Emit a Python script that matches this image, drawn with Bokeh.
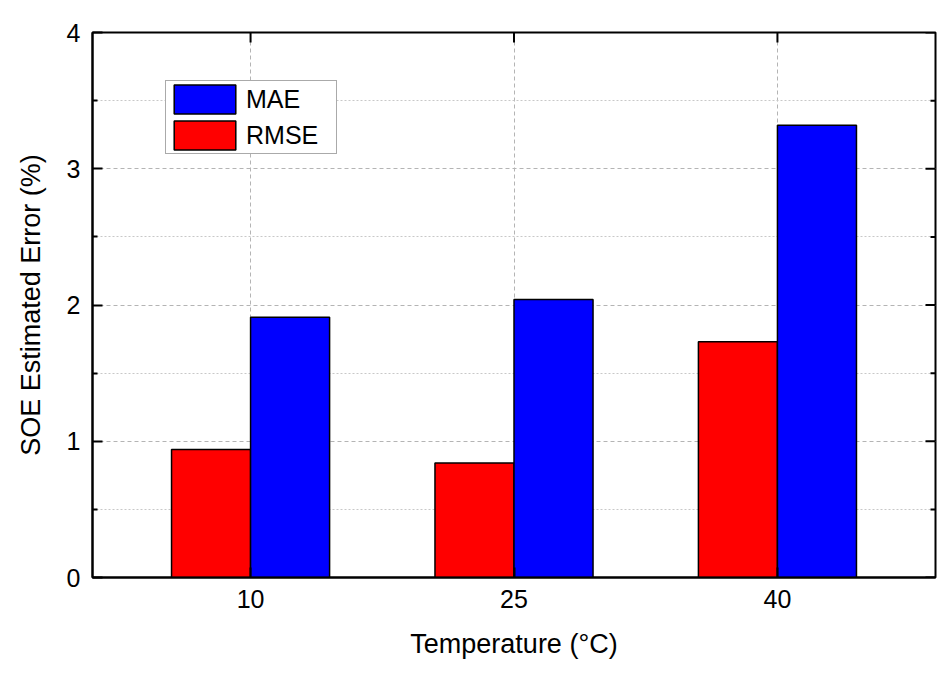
import math
from bokeh.plotting import figure
from bokeh.models import ColumnDataSource, FixedTicker, Range1d, Legend, LegendItem
from bokeh.transform import dodge
from bokeh.embed import file_html
from bokeh.resources import INLINE

temperatures = [10, 25, 40]
mae = [1.91, 2.04, 3.32]
rmse = [0.94, 0.84, 1.73]
y_ticks = [0, 1, 2, 3, 4]
y_minor = [0.5, 1.5, 2.5, 3.5]

src = ColumnDataSource(data=dict(temp=temperatures, mae=mae, rmse=rmse))

FONT = "Liberation Sans"
x_range = Range1d(1, 49)
y_range = Range1d(0, 4)

p = figure(width=937, height=675, output_backend="svg", toolbar_location=None,
           x_range=x_range, y_range=y_range,
           min_border_left=92, min_border_right=2, min_border_top=32, min_border_bottom=98)
p.background_fill_color = "white"
p.border_fill_color = "white"
p.outline_line_color = "black"
p.outline_line_width = 2

r_rmse = p.vbar(x=dodge("temp", -2.25), top="rmse", width=4.5, bottom=0, source=src,
                fill_color="#ff0000", line_color="black", line_width=1.5)
r_mae = p.vbar(x=dodge("temp", 2.25), top="mae", width=4.5, bottom=0, source=src,
               fill_color="#0000ff", line_color="black", line_width=1.5)

# inward ticks on the top and right frame edges (mirror axes, no labels)
p.ray(x=temperatures, y=[y_range.end] * len(temperatures), length=10, length_units="screen",
      angle=-math.pi / 2, line_color="black", line_width=2)
p.ray(x=[x_range.end] * len(y_ticks), y=y_ticks, length=10, length_units="screen",
      angle=math.pi, line_color="black", line_width=2)
p.ray(x=[x_range.end] * len(y_minor), y=y_minor, length=5, length_units="screen",
      angle=math.pi, line_color="black", line_width=2)

xt = FixedTicker(ticks=temperatures)
yt = FixedTicker(ticks=y_ticks, minor_ticks=y_minor)

for ax in (p.xaxis[0], p.yaxis[0]):
    ax.axis_line_width = 2
    ax.axis_line_color = "black"
    ax.major_tick_in = 10
    ax.major_tick_out = 0
    ax.minor_tick_in = 5
    ax.minor_tick_out = 0
    ax.major_tick_line_width = 2
    ax.minor_tick_line_width = 2
    ax.major_label_text_font = FONT
    ax.major_label_text_font_size = "25px"
    ax.major_label_text_color = "black"
    ax.axis_label_text_font = FONT
    ax.axis_label_text_font_size = "27px"
    ax.axis_label_text_font_style = "normal"
    ax.axis_label_text_color = "black"

p.xaxis.ticker = xt
p.yaxis.ticker = yt
p.xaxis[0].minor_tick_in = 0
p.xaxis.axis_label = "Temperature (°C)"
p.yaxis.axis_label = "SOE Estimated Error (%)"
p.xaxis.major_label_standoff = 12
p.xaxis.axis_label_standoff = 18
p.yaxis.major_label_standoff = 12
p.yaxis.axis_label_standoff = 18

p.xgrid.ticker = xt
p.ygrid.ticker = yt
for g in (p.xgrid[0], p.ygrid[0]):
    g.grid_line_color = "#b4b4b4"
    g.grid_line_dash = "4 3"
    g.grid_line_width = 1
p.ygrid.minor_grid_line_color = "#c8c8c8"
p.ygrid.minor_grid_line_dash = "2 2"
p.ygrid.minor_grid_line_width = 1

legend = Legend(items=[LegendItem(label="MAE", renderers=[r_mae]),
                       LegendItem(label="RMSE", renderers=[r_rmse])],
                location=(73, 423))
legend.label_text_font = FONT
legend.label_text_font_size = "25px"
legend.label_text_color = "black"
legend.glyph_width = 77
legend.glyph_height = 36
legend.label_height = 36
legend.label_width = 90
legend.spacing = -3
legend.padding = 0
legend.margin = 0
legend.label_standoff = 3
legend.border_line_color = "#555555"
legend.border_line_width = 1
legend.background_fill_alpha = 1
p.add_layout(legend, "center")

open("out.html", "w").write(file_html(p, INLINE))
